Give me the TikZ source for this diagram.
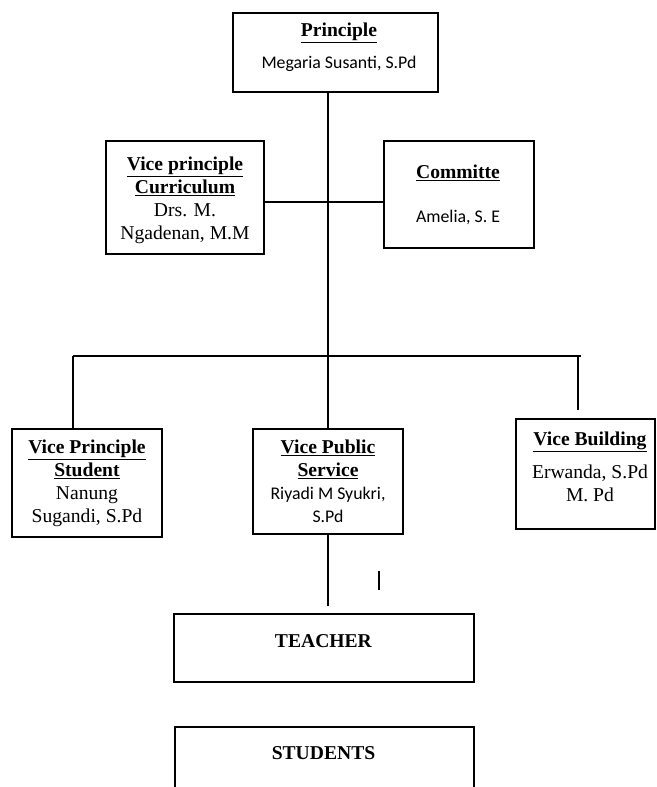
\documentclass[tikz,border=0pt]{standalone}
\usepackage{fontspec}
\setmainfont{Liberation Serif}
\setsansfont{Carlito}
\usetikzlibrary{positioning,calc}

\newcommand\hd[1]{\textbf{\underline{#1}}}
\newcommand\sn[1]{{\sffamily\fontsize{17.8}{23}\selectfont #1}}

\begin{document}
\begin{tikzpicture}[x=1pt,y=-1pt,line width=1.2pt,
    box/.style={draw,line width=1.4pt,inner sep=0pt},
    txt/.style={align=center,inner sep=0pt,font=\fontsize{19.6}{23}\selectfont}]
          \useasboundingbox (0,0) rectangle (656,787);
          \clip (0,0) rectangle (656,787);
          % boxes
          \node[box,minimum width=205pt,minimum height=79pt] (prin) at (335.5,52.5) {};
          \node[box,minimum width=158pt,minimum height=113pt] (curr) at (185,197.5) {};
          \node[box,minimum width=150pt,minimum height=107pt] (comm) at (459,194.5) {};
          \node[box,minimum width=150pt,minimum height=108pt] (stud) at (87,483) {};
          \node[box,minimum width=150pt,minimum height=105pt] (pub) at (328,481.5) {};
          \node[box,minimum width=139pt,minimum height=110pt] (bld) at (585.5,474) {};
          \node[box,minimum width=300pt,minimum height=68pt] (teach) at (324,648) {};
          \node[box,minimum width=299pt,minimum height=80pt] (studs) at (324.5,767) {};
          % texts
          \node[txt] (prinT) at (339,47) {\hd{Principle}\\[9pt]\sn{Megaria Susanti, S.Pd}};
          \node[txt] (currT) at (185,200) {\hd{Vice principle}\\\hd{Curriculum}\\Drs. M.\\Ngadenan, M.M};
          \node[txt] (commT) at (458,195) {\hd{Committe}\\[21pt]\sn{Amelia, S. E}};
          \node[txt] (studT) at (87,483) {\hd{Vice Principle}\\\hd{Student}\\Nanung\\Sugandi, S.Pd};
          \node[txt] (pubT) at (328,481) {\hd{Vice Public}\\\hd{Service}\\\sn{Riyadi M Syukri,}\\\sn{S.Pd}};
          \node[txt] (bldT) at (590,466.5) {\hd{Vice Building}\\[10pt]Erwanda, S.Pd\\M. Pd};
          \node[txt] (teachT) at (323.5,641) {\textbf{TEACHER}};
          \node[txt] (studsT) at (323.5,753) {\textbf{STUDENTS}};
          % lines
          \coordinate (cc) at (329,202);
          \coordinate (busL) at (73,356);
          \coordinate (busR) at (581,356);
          \coordinate (bldTop) at (578,356);
          \coordinate (tk1) at (379,571);
          \coordinate (tk2) at (379,590);
          \draw (prin.south -| pub.north) -- (pub.north);
          \draw (curr.east |- cc) -- (comm.west |- cc);
          \draw (busL) -- (busR);
          \draw (busL) -- (busL |- stud.north);
          \draw (bldTop) -- ($(bldTop |- bld.north)+(0,-8)$);
          \draw (pub.south) -- ($(pub.south |- teach.north)+(0,-7)$);
          \draw (tk1) -- (tk2);
        \end{tikzpicture}
\end{document}
